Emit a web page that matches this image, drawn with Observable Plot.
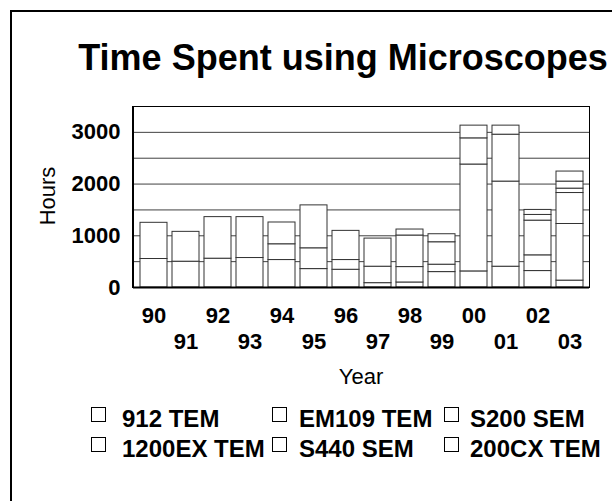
<!DOCTYPE html>
<html><head><meta charset="utf-8">
<script src="https://cdn.jsdelivr.net/npm/d3@7"></script>
<script src="https://cdn.jsdelivr.net/npm/@observablehq/plot@0.6"></script>
<style>
html,body{margin:0;padding:0;background:#fff;overflow:hidden;}
#wrap{position:relative;width:612px;height:501px;overflow:hidden;font-family:"Liberation Sans",Arial,sans-serif;}
#wrap svg{position:absolute;left:0;top:0;}
</style></head><body><div id="wrap"></div>
<script>
// ---- data ----
const years = ["90","91","92","93","94","95","96","97","98","99","00","01","02","03"];
const series = ["912 TEM","EM109 TEM","S200 SEM","1200EX TEM","S440 SEM","200CX TEM"];
const tem912 = [0,0,0,0,0,0,0,84,97,298,311,402,318,133];
const em109  = [551,499,557,570,531,356,343,318,298,143,0,0,304,1095];
const s200   = [0,0,0,0,305,402,188,0,610,434,0,0,0,599];
const ex1200 = [700,577,804,791,421,830,564,544,116,155,2067,1646,671,85];
const s440   = [0,0,0,0,0,0,0,0,0,0,506,907,110,136];
const cx200  = [0,0,0,0,0,0,0,0,0,0,246,175,97,194];
const yTicks = [0,1000,2000,3000];
const gridTicks = [500,1000,1500,2000,2500,3000,3500];
const title = "Time Spent using Microscopes";
const xTitle = "Year";
const yTitle = "Hours";

const values = [tem912, em109, s200, ex1200, s440, cx200];
const data = [];
series.forEach((s, i) => values[i].forEach((v, j) => { if (v > 0) data.push({year: years[j], series: s, hours: v}); }));
const evenYears = years.filter((d, i) => i % 2 === 0);
const oddYears = years.filter((d, i) => i % 2 === 1);
const FONT = "'Liberation Sans', Arial, sans-serif";

const chart = Plot.plot({
  width: 612, height: 501,
  marginLeft: 133, marginRight: 23, marginTop: 106, marginBottom: 214,
  x: {domain: years, paddingInner: 0.17, paddingOuter: 0.083, axis: null},
  y: {domain: [0, 3500], axis: null},
  style: {fontFamily: FONT, background: "transparent", overflow: "visible"},
  marks: [
    Plot.gridY(gridTicks, {stroke: "#000", strokeOpacity: 0.75}),
    Plot.frame({stroke: "#000"}),
    Plot.barY(data, {x: "year", y: "hours", fill: "white", stroke: "#333", strokeWidth: 1}),
    Plot.ruleY([0], {stroke: "#000", strokeWidth: 2}),
    Plot.axisY(yTicks, {tickSize: 0, tickPadding: 13, tickFormat: d => String(d), fontSize: 22, fontWeight: "bold", fill: "#000", label: null}),
    Plot.axisX(evenYears, {tickSize: 0, tickPadding: 20, fontSize: 22, fontWeight: "bold", fill: "#000", label: null}),
    Plot.axisX(oddYears, {tickSize: 0, tickPadding: 46, fontSize: 22, fontWeight: "bold", fill: "#000", label: null})
  ]
});
const wrap = document.getElementById("wrap");
wrap.appendChild(chart);

// overlay: outer frame, title, axis titles, legend
const svg = d3.select(wrap).append("svg").attr("width", 612).attr("height", 501)
  .style("font-family", FONT);
svg.append("rect").attr("x", 11).attr("y", 11).attr("width", 700).attr("height", 600)
  .attr("fill", "none").attr("stroke", "#000").attr("stroke-width", 2);
svg.append("line").attr("x1", 133).attr("x2", 133).attr("y1", 106).attr("y2", 288)
  .attr("stroke", "#000").attr("stroke-width", 2);
svg.append("text").attr("x", 343).attr("y", 70).attr("text-anchor", "middle")
  .attr("font-size", 36).attr("font-weight", "bold").text(title);
svg.append("text").attr("x", 361).attr("y", 384).attr("text-anchor", "middle")
  .attr("font-size", 22).text(xTitle);
svg.append("text").attr("transform", "translate(55,196) rotate(-90)").attr("text-anchor", "middle")
  .attr("font-size", 22).text(yTitle);
const colBox = [91, 272, 444];
const colText = [122, 299, 470];
const rowY = [407, 437];
series.forEach((s, i) => {
  const c = i % 3, cy = rowY[Math.floor(i / 3)];
  svg.append("rect").attr("x", colBox[c] + 0.5).attr("y", cy + 0.5).attr("width", 14).attr("height", 14)
    .attr("fill", "white").attr("stroke", "#000");
  svg.append("text").attr("x", colText[c]).attr("y", cy + 20)
    .attr("font-size", 24).attr("font-weight", "bold").text(s);
});
</script></body></html>
